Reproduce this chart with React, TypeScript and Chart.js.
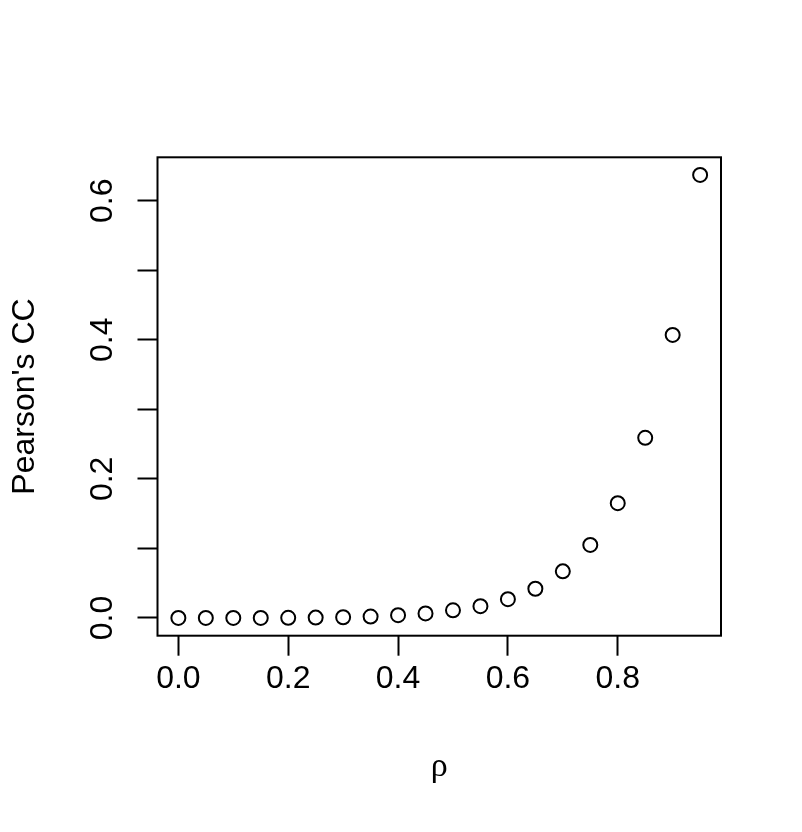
import React, { useEffect, useRef } from "react";
import { Chart, registerables } from "chart.js";

Chart.register(...registerables);

// ---- data ----
const RHO = [0, 0.05, 0.1, 0.15, 0.2, 0.25, 0.3, 0.35, 0.4, 0.45, 0.5, 0.55, 0.6, 0.65, 0.7, 0.75, 0.8, 0.85, 0.9, 0.95];
const PEARSON = [0, 0, 0, 0.0001, 0.0002, 0.0005, 0.001, 0.002, 0.004, 0.0065, 0.011, 0.017, 0.027, 0.042, 0.067, 0.105, 0.165, 0.259, 0.407, 0.637];
const X_TICKS = [0, 0.2, 0.4, 0.6, 0.8];
const Y_TICKS = [0, 0.1, 0.2, 0.3, 0.4, 0.5, 0.6];
const Y_TICK_LABELS = [0, 0.2, 0.4, 0.6];
const X_TITLE = "ρ";
const Y_TITLE = "Pearson's CC";

const FONT = '"Liberation Sans", Arial, Helvetica, sans-serif';
const SYMBOL_FONT = '"Liberation Serif", "DejaVu Serif", serif';

export default function App() {
  const ref = useRef<HTMLCanvasElement | null>(null);

  useEffect(() => {
    if (!ref.current) return;

    const boxPlugin = {
      id: "rbox",
      afterDraw(chart: any) {
        const { ctx, chartArea } = chart;
        ctx.save();
        ctx.strokeStyle = "#000";
        ctx.lineWidth = 2;
        ctx.strokeRect(chartArea.left, chartArea.top, chartArea.right - chartArea.left, chartArea.bottom - chartArea.top);
        // rotated y tick labels (R style, las=0)
        const ys = chart.scales.y;
        ctx.fillStyle = "#000";
        ctx.font = `32px ${FONT}`;
        ctx.textAlign = "center";
        ctx.textBaseline = "alphabetic";
        for (const v of Y_TICK_LABELS) {
          const py = ys.getPixelForValue(v);
          ctx.save();
          ctx.translate(chartArea.left - 45.8, py);
          ctx.rotate(-Math.PI / 2);
          ctx.fillText(v.toFixed(1), 0, 0);
          ctx.restore();
        }
        ctx.restore();
      },
    };

    const chart = new Chart(ref.current, {
      type: "scatter",
      data: {
        datasets: [
          {
            data: RHO.map((x, i) => ({ x, y: PEARSON[i] })),
            pointStyle: "circle",
            pointRadius: 7,
            pointHoverRadius: 7,
            borderColor: "#000",
            borderWidth: 2,
            backgroundColor: "rgba(0,0,0,0)",
            showLine: false,
          },
        ],
      },
      options: {
        animation: false,
        responsive: false,
        devicePixelRatio: 1,
        layout: { padding: { left: 0, top: 157.3, right: 81, bottom: 0 } },
        plugins: { legend: { display: false }, tooltip: { enabled: false } },
        scales: {
          x: {
            type: "linear",
            min: -0.038,
            max: 0.988,
            afterBuildTicks: (s: any) => {
              s.ticks = X_TICKS.map((v) => ({ value: v }));
            },
            afterFit: (s: any) => {
              s.height = 832 - 635.7;
            },
            border: { display: false },
            grid: {
              drawOnChartArea: false,
              drawTicks: true,
              tickLength: 20,
              tickWidth: 2,
              tickColor: "#000",
            },
            ticks: {
              color: "#000",
              font: { family: FONT, size: 32 },
              padding: 4,
              maxRotation: 0,
              minRotation: 0,
              autoSkip: false,
              callback: (v: any) => Number(v).toFixed(1),
            },
            title: {
              display: true,
              text: X_TITLE,
              color: "#000",
              font: { family: SYMBOL_FONT, size: 34 },
              padding: { top: 0, bottom: 45 },
            },
          },
          y: {
            type: "linear",
            min: -0.0255,
            max: 0.6624,
            afterBuildTicks: (s: any) => {
              s.ticks = Y_TICKS.map((v) => ({ value: v }));
            },
            afterFit: (s: any) => {
              s.width = 157.5;
            },
            border: { display: false },
            grid: {
              drawOnChartArea: false,
              drawTicks: true,
              tickLength: 20,
              tickWidth: 2,
              tickColor: "#000",
            },
            ticks: { display: false },
            title: {
              display: true,
              text: Y_TITLE,
              color: "#000",
              font: { family: FONT, size: 32 },
              padding: { top: 5.7, bottom: 0 },
            },
          },
        },
      },
      plugins: [boxPlugin],
    } as any);

    return () => chart.destroy();
  }, []);

  return (
    <div style={{ position: "fixed", left: 0, top: 0, width: 802, height: 832, background: "#fff" }}>
      <canvas ref={ref} width={802} height={832} style={{ display: "block" }} />
    </div>
  );
}
